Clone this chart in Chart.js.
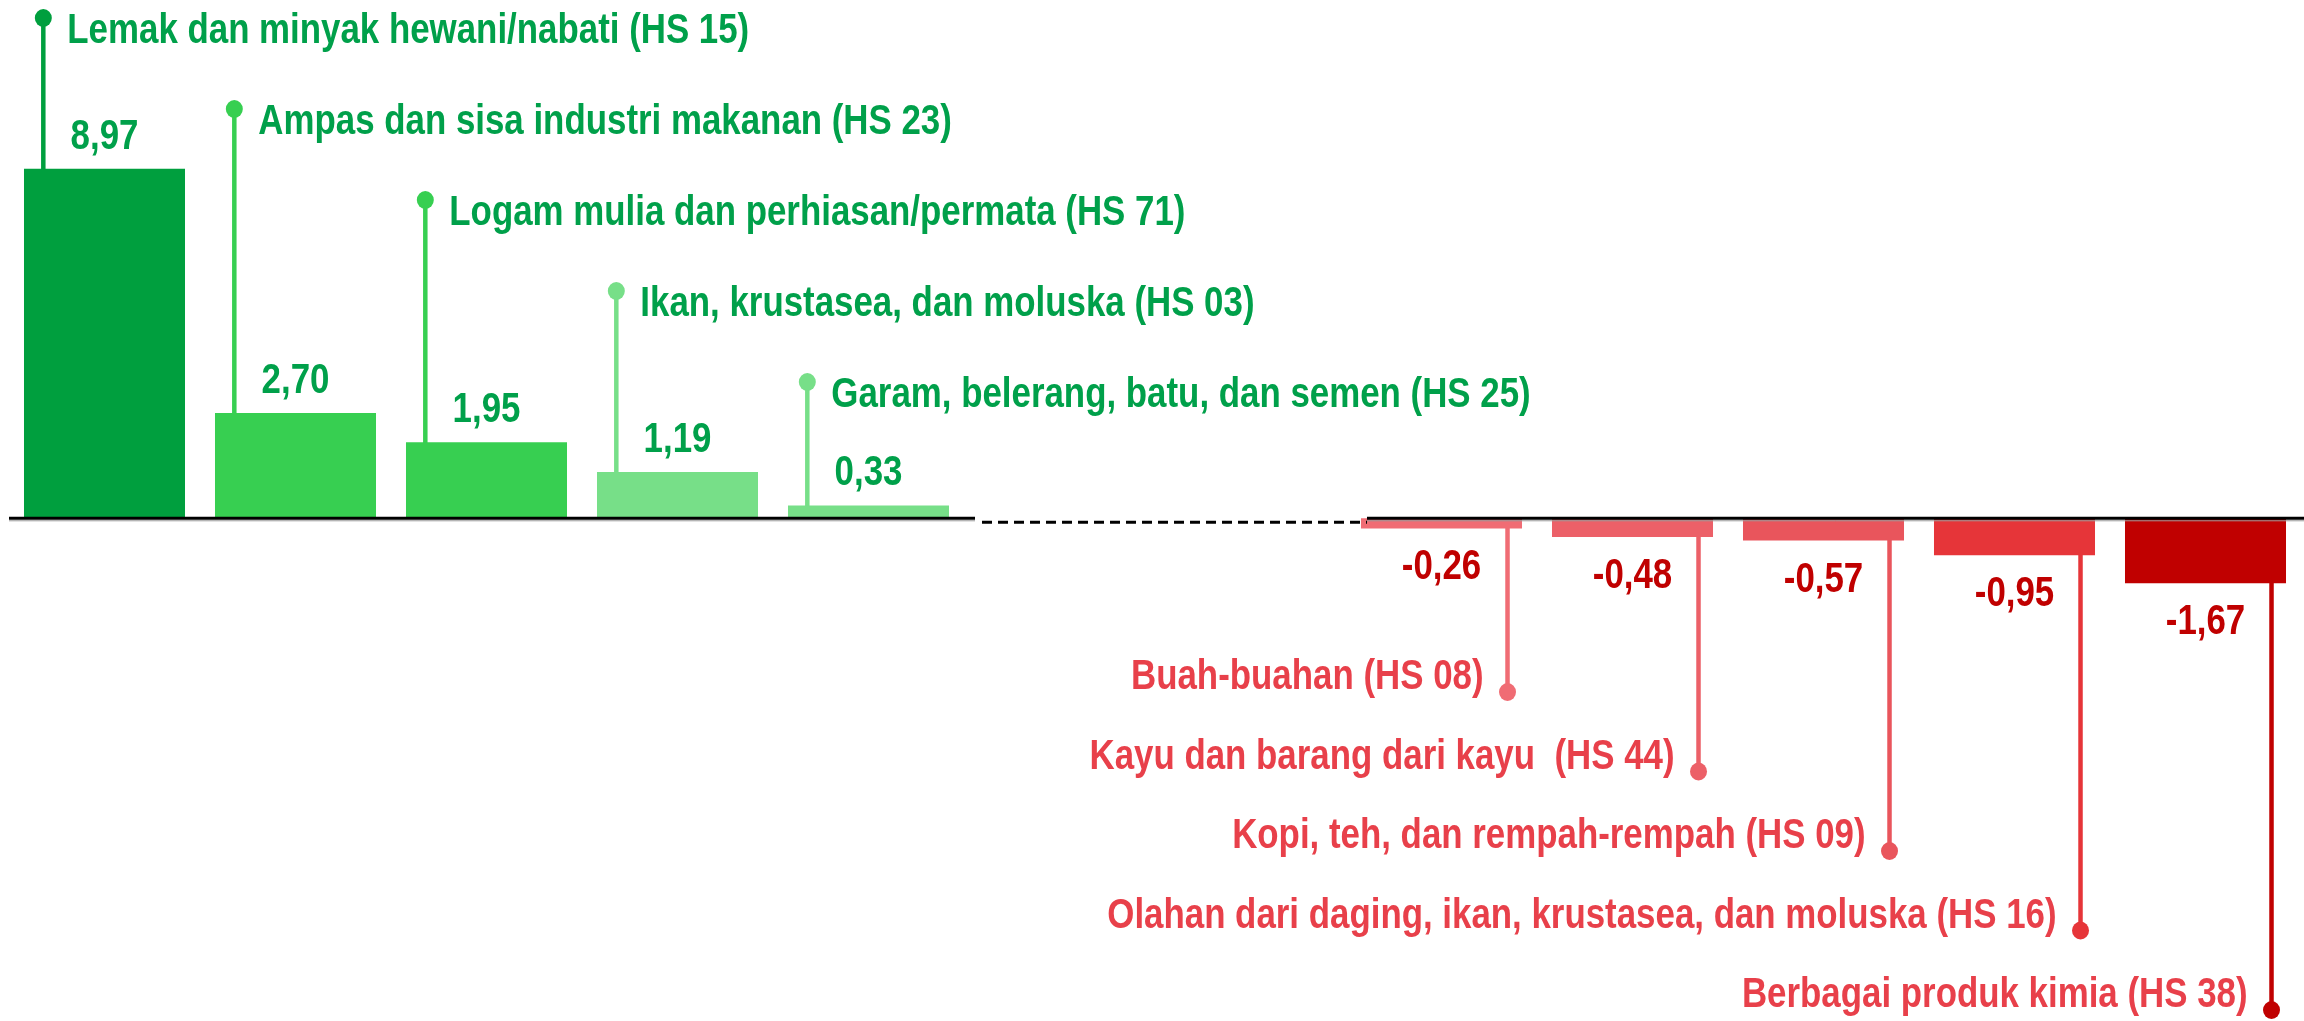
<!DOCTYPE html>
<html>
<head>
<meta charset="utf-8">
<script src="https://cdn.jsdelivr.net/npm/chart.js@4/dist/chart.umd.min.js"></script>
<style>
  html, body { margin: 0; padding: 0; background: #fff; }
  canvas { display: block; }
</style>
</head>
<body>
<canvas id="grafik" width="2304" height="1021"></canvas>
<script>
// komoditas dengan perubahan terbesar (naik / turun)
const kategori = [
  'Lemak dan minyak hewani/nabati (HS 15)',
  'Ampas dan sisa industri makanan (HS 23)',
  'Logam mulia dan perhiasan/permata (HS 71)',
  'Ikan, krustasea, dan moluska (HS 03)',
  'Garam, belerang, batu, dan semen (HS 25)',
  '', '',
  'Buah-buahan (HS 08)',
  'Kayu dan barang dari kayu  (HS 44)',
  'Kopi, teh, dan rempah-rempah (HS 09)',
  'Olahan dari daging, ikan, krustasea, dan moluska (HS 16)',
  'Berbagai produk kimia (HS 38)'
];
const nilai = [8.97, 2.70, 1.95, 1.19, 0.33, null, null, -0.26, -0.48, -0.57, -0.95, -1.67];

const warnaBar = [
  '#009F3E', '#37CF51', '#37CF51', '#77DF88', '#77DF88', '#fff', '#fff',
  '#F06C74', '#EC6068', '#E9555C', '#E63539', '#C00000'
];

// Liberation Sans dipersempit ~ Arial Narrow
const FONT = 'bold 42px "Liberation Sans", Arial, sans-serif';
const SEMPIT = 0.83;
const hijauTeks = '#00A04A';
const merahTeks = '#E8404A';
const merahNilai = '#C00000';

const fmt = v => v.toFixed(2).replace('.', ',');

function tulis(ctx, teks, x, y, align) {
  ctx.save();
  ctx.translate(x, y);
  ctx.scale(SEMPIT, 1);
  ctx.textAlign = align;
  ctx.fillText(teks, 0, 0);
  ctx.restore();
}

const labelPlugin = {
  id: 'callout',
  beforeDatasetsDraw(chart) {
    const ctx = chart.ctx;
    const meta = chart.getDatasetMeta(0);
    const y0 = chart.scales.y.getPixelForValue(0);
    let pi = 0, ni = 0;
    ctx.save();
    meta.data.forEach((bar, i) => {
      const v = nilai[i];
      if (v === null) return;
      let sx, dotY;
      if (v > 0) {
        sx = bar.x - bar.width * 0.38;
        dotY = 43 + pi * 91 - 25;
        pi++;
      } else {
        sx = bar.x + bar.width * 0.41;
        dotY = 689 + ni * 79.5 + 3;
        ni++;
      }
      ctx.strokeStyle = warnaBar[i];
      ctx.lineWidth = 4.5;
      ctx.beginPath();
      ctx.moveTo(sx, y0);
      ctx.lineTo(sx, dotY);
      ctx.stroke();
      ctx.fillStyle = warnaBar[i];
      ctx.beginPath();
      ctx.ellipse(sx, dotY, 8.5, 9, 0, 0, Math.PI * 2);
      ctx.fill();
    });
    ctx.restore();
  },
  afterDatasetsDraw(chart) {
    const ctx = chart.ctx;
    const meta = chart.getDatasetMeta(0);
    const y0 = chart.scales.y.getPixelForValue(0);
    ctx.save();

    // garis sumbu
    const b5 = meta.data[4], b8 = meta.data[7];
    const kiri1 = 9, kanan1 = b5.x + b5.width / 2 + 26;
    const kiri2 = b8.x - b8.width / 2 + 6;
    ctx.strokeStyle = '#999';
    ctx.lineWidth = 1;
    ctx.beginPath();
    ctx.moveTo(kiri1, y0 + 2.5); ctx.lineTo(kanan1, y0 + 2.5);
    ctx.moveTo(kiri2, y0 + 2.5); ctx.lineTo(chart.width, y0 + 2.5);
    ctx.stroke();
    ctx.strokeStyle = '#000';
    ctx.lineWidth = 3;
    ctx.beginPath();
    ctx.moveTo(kiri1, y0); ctx.lineTo(kanan1, y0);
    ctx.moveTo(kiri2, y0); ctx.lineTo(chart.width, y0);
    ctx.stroke();
    ctx.setLineDash([10, 6]);
    ctx.beginPath();
    ctx.moveTo(kanan1 + 7, y0 + 4); ctx.lineTo(kiri2, y0 + 4);
    ctx.stroke();
    ctx.setLineDash([]);

    ctx.font = FONT;
    ctx.textBaseline = 'alphabetic';
    let pi = 0, ni = 0;
    meta.data.forEach((bar, i) => {
      const v = nilai[i];
      if (v === null) return;
      if (v > 0) {
        const sx = bar.x - bar.width * 0.38;
        ctx.fillStyle = hijauTeks;
        tulis(ctx, fmt(v), bar.x, bar.y - 20, 'center');
        tulis(ctx, kategori[i], sx + 24, 43 + pi * 91, 'left');
        pi++;
      } else {
        const sx = bar.x + bar.width * 0.41;
        ctx.fillStyle = merahNilai;
        tulis(ctx, fmt(v), bar.x, bar.y + 51, 'center');
        ctx.fillStyle = merahTeks;
        tulis(ctx, kategori[i], sx - 24, 689 + ni * 79.5, 'right');
        ni++;
      }
    });
    ctx.restore();
  }
};

new Chart(document.getElementById('grafik'), {
  type: 'bar',
  data: {
    labels: kategori,
    datasets: [{
      data: nilai,
      backgroundColor: warnaBar,
      borderWidth: 0,
      barPercentage: 0.843,
      categoryPercentage: 1
    }]
  },
  options: {
    responsive: false,
    animation: false,
    layout: { padding: { left: 9, right: 3, top: 0, bottom: 0 } },
    plugins: { legend: { display: false }, tooltip: { enabled: false } },
    scales: {
      x: { display: false },
      y: { display: false, min: -12.9, max: 13.3 }
    }
  },
  plugins: [labelPlugin]
});
</script>
</body>
</html>
